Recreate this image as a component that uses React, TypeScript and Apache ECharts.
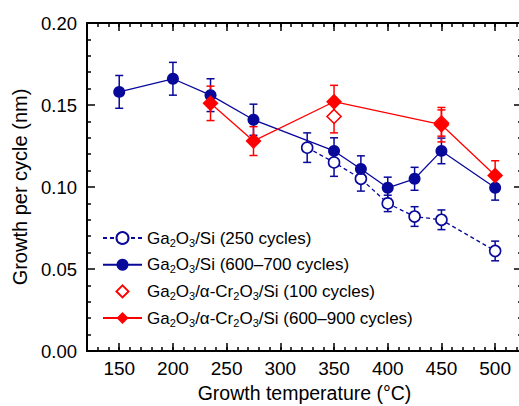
import React, { useEffect, useRef } from "react";
import * as echarts from "echarts";

// ---- data ----
const temps250 = [325, 350, 375, 400, 425, 450, 500];
const gpc250 = [0.124, 0.115, 0.105, 0.09, 0.082, 0.08, 0.061];
const err250 = [0.009, 0.0085, 0.0075, 0.005, 0.006, 0.006, 0.006];

const tempsThick = [150, 200, 235, 275, 350, 375, 400, 425, 450, 500];
const gpcThick = [0.158, 0.166, 0.156, 0.141, 0.122, 0.111, 0.0995, 0.105, 0.122, 0.0995];
const errThick = [0.01, 0.01, 0.01, 0.0095, 0.008, 0.008, 0.0065, 0.007, 0.0078, 0.0075];

const tempsCr100 = [350, 450];
const gpcCr100 = [0.143, 0.139];
const errCr100 = [0.01, 0.008];

const tempsCrThick = [235, 275, 350, 450, 500];
const gpcCrThick = [0.151, 0.128, 0.152, 0.138, 0.107];
const errCrThick = [0.0105, 0.0088, 0.01, 0.0105, 0.009];

const seriesNames = [
  "Ga2O3/Si (250 cycles)",
  "Ga2O3/Si (600–700 cycles)",
  "Ga2O3/α-Cr2O3/Si (100 cycles)",
  "Ga2O3/α-Cr2O3/Si (600–900 cycles)",
];

const xMajorTicks = [150, 200, 250, 300, 350, 400, 450, 500];

const BLUE = "#08089a";
const RED = "#ff0000";
const FONT = '"Liberation Sans", Arial, Helvetica, sans-serif';

const pts = (xs: number[], ys: number[]) => xs.map((x, i) => [x, ys[i]]);
const errs = (xs: number[], ys: number[], es: number[]) =>
  xs.map((x, i) => [x, ys[i] - es[i], ys[i] + es[i]]);

const errRender = (color: string) => (params: any, api: any) => {
  const x = api.value(0);
  const lo = api.value(1);
  const hi = api.value(2);
  const top = api.coord([x, hi]);
  const bot = api.coord([x, lo]);
  const hw = 4;
  const style = { stroke: color, lineWidth: 1.5, fill: "none" };
  return {
    type: "group",
    children: [
      { type: "line", shape: { x1: top[0], y1: top[1], x2: bot[0], y2: bot[1] }, style },
      { type: "line", shape: { x1: top[0] - hw, y1: top[1], x2: top[0] + hw, y2: top[1] }, style },
      { type: "line", shape: { x1: bot[0] - hw, y1: bot[1], x2: bot[0] + hw, y2: bot[1] }, style },
    ],
  };
};

const errSeries = (xs: number[], ys: number[], es: number[], color: string) => ({
  type: "custom",
  silent: true,
  xAxisIndex: 0,
  yAxisIndex: 0,
  renderItem: errRender(color),
  encode: { x: 0, y: [1, 2] },
  data: errs(xs, ys, es),
});

const subscript = (name: string) => name.replace(/([A-Za-z])(\d)/g, "$1{s|$2}");

export default function App() {
  const ref = useRef<HTMLDivElement>(null);
  useEffect(() => {
    if (!ref.current) return;
    const chart = echarts.init(ref.current, undefined, { renderer: "svg" });

    const axisLine = { show: true, lineStyle: { color: "#000", width: 2 } };
    const tickStyle = { color: "#000", width: 1.5 };
    const gridLeft = 87;
    const gridTop = 23;
    const gridWidth = 435;
    const gridHeight = 328;

    const xMinorAxis = (position: "bottom" | "top", labels: boolean, name: boolean) => ({
      type: "value",
      position,
      min: 120,
      max: 525,
      interval: 10,
      axisLine,
      axisTick: { show: true, inside: true, length: 4, lineStyle: tickStyle },
      splitLine: { show: false },
      axisLabel: labels
        ? {
            show: true,
            customValues: xMajorTicks,
            fontSize: 19,
            fontFamily: FONT,
            color: "#000",
            margin: 8,
          }
        : { show: false },
      name: name ? "Growth temperature (°C)" : "",
      nameLocation: "middle",
      nameGap: 31,
      nameTextStyle: { fontSize: 19.5, fontFamily: FONT, color: "#000" },
    });
    const xMajorAxis = (position: "bottom" | "top") => ({
      type: "value",
      position,
      min: 120,
      max: 525,
      interval: 10,
      axisLine: { show: false },
      axisTick: { show: true, inside: true, length: 8, customValues: xMajorTicks, lineStyle: tickStyle },
      splitLine: { show: false },
      axisLabel: { show: false },
    });
    const yAxis = (position: "left" | "right", labels: boolean) => ({
      type: "value",
      position,
      min: 0,
      max: 0.2,
      interval: 0.05,
      axisLine,
      axisTick: { show: true, inside: true, length: 8, lineStyle: tickStyle },
      minorTick: { show: true, splitNumber: 5, length: 4, lineStyle: tickStyle },
      splitLine: { show: false },
      minorSplitLine: { show: false },
      axisLabel: labels
        ? {
            show: true,
            formatter: (v: number) => v.toFixed(2),
            fontSize: 18.5,
            fontFamily: FONT,
            color: "#000",
            margin: 10,
          }
        : { show: false },
      name: labels ? "Growth per cycle (nm)" : "",
      nameLocation: "middle",
      nameGap: 52,
      nameTextStyle: { fontSize: 20, fontFamily: FONT, color: "#000" },
    });

    chart.setOption({
      animation: false,
      backgroundColor: "#fff",
      grid: {
        left: gridLeft,
        top: gridTop,
        width: gridWidth,
        height: gridHeight,
        containLabel: false,
        outerBoundsMode: "none",
      },
      xAxis: [
        xMinorAxis("bottom", true, true),
        xMajorAxis("bottom"),
        xMinorAxis("top", false, false),
        xMajorAxis("top"),
      ],
      yAxis: [yAxis("left", true), yAxis("right", false)],
      legend: {
        data: seriesNames,
        orient: "vertical",
        left: 102,
        top: 228,
        padding: 0,
        itemWidth: 39,
        itemHeight: 15,
        itemGap: 6.7,
        formatter: (name: string) => subscript(name),
        textStyle: {
          fontSize: 17,
          fontFamily: FONT,
          color: "#000",
          lineHeight: 20,
          rich: {
            s: { fontSize: 11, fontFamily: FONT, color: "#000", lineHeight: 6, verticalAlign: "bottom" },
          },
        },
      },
      series: [
        errSeries(temps250, gpc250, err250, BLUE),
        {
          name: seriesNames[0],
          type: "line",
          data: pts(temps250, gpc250),
          symbol: "circle",
          symbolSize: 11,
          itemStyle: { color: "#fff", borderColor: BLUE, borderWidth: 1.6 },
          lineStyle: { color: BLUE, width: 1.3, type: [4, 3] },
        },
        errSeries(tempsThick, gpcThick, errThick, BLUE),
        {
          name: seriesNames[1],
          type: "line",
          data: pts(tempsThick, gpcThick),
          symbol: "circle",
          symbolSize: 12,
          itemStyle: { color: BLUE, borderColor: BLUE, borderWidth: 0 },
          lineStyle: { color: BLUE, width: 1.3 },
        },
        errSeries(tempsCr100, gpcCr100, errCr100, RED),
        {
          name: seriesNames[2],
          type: "line",
          data: pts(tempsCr100, gpcCr100),
          symbol: "diamond",
          symbolSize: 14,
          itemStyle: { color: "#fff", borderColor: RED, borderWidth: 1.6 },
          lineStyle: { color: RED, width: 0, opacity: 0 },
        },
        errSeries(tempsCrThick, gpcCrThick, errCrThick, RED),
        {
          name: seriesNames[3],
          type: "line",
          data: pts(tempsCrThick, gpcCrThick),
          symbol: "diamond",
          symbolSize: 16,
          itemStyle: { color: RED, borderColor: RED, borderWidth: 0 },
          lineStyle: { color: RED, width: 1.3 },
        },
      ],
    });
    return () => chart.dispose();
  }, []);

  return (
    <div
      ref={ref}
      style={{ position: "absolute", left: 0, top: 0, width: 519, height: 406, background: "#fff" }}
    />
  );
}
